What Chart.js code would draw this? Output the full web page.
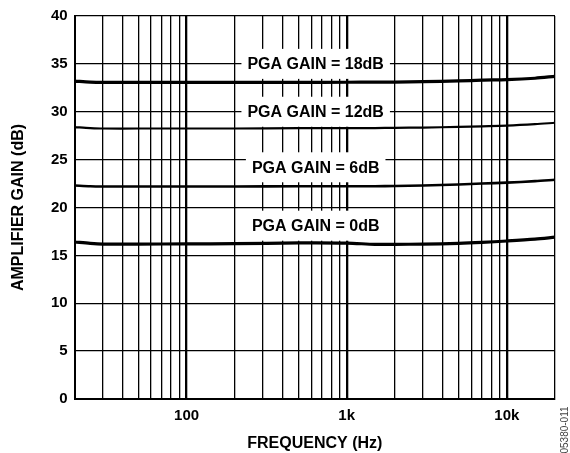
<!DOCTYPE html>
<html>
<head>
<meta charset="utf-8">
<script src="https://cdn.jsdelivr.net/npm/chart.js@4"></script>
<style>
  html, body { margin: 0; padding: 0; background: #fff; }
  #wrap { width: 570px; height: 453px; position: relative; }
</style>
</head>
<body>
<div id="wrap"><canvas id="gain"></canvas></div>
<script>
// frequency points (Hz) shared by all curves
const freqHz = [20, 25, 30, 50, 100, 200, 500, 1000, 1500, 2000, 3000, 5000, 7000, 10000, 15000, 20000];
// amplifier gain (dB) for each PGA setting
const gain0dB  = [16.4, 16.25, 16.18, 16.18, 16.2, 16.22, 16.3, 16.28, 16.15, 16.15, 16.18, 16.25, 16.35, 16.5, 16.7, 16.9];
const gain6dB  = [22.3, 22.22, 22.2, 22.2, 22.2, 22.2, 22.22, 22.22, 22.22, 22.25, 22.3, 22.4, 22.5, 22.6, 22.75, 22.9];
const gain12dB = [28.4, 28.3, 28.25, 28.25, 28.25, 28.25, 28.28, 28.3, 28.3, 28.32, 28.35, 28.42, 28.48, 28.55, 28.7, 28.85];
const gain18dB = [33.2, 33.1, 33.07, 33.07, 33.07, 33.07, 33.07, 33.08, 33.1, 33.1, 33.15, 33.22, 33.3, 33.35, 33.5, 33.7];

// x grid / tick values and which ones carry a label
const xTickValues = [20, 30, 40, 50, 60, 70, 80, 90, 100, 200, 300, 400, 500, 600, 700, 800, 900,
                     1000, 2000, 3000, 4000, 5000, 6000, 7000, 8000, 9000, 10000, 20000];
const xTickLabels = { 100: "100", 1000: "1k", 10000: "10k" };

// curve annotations: text and anchor (Hz, dB)
const labelText = ["PGA GAIN = 18dB", "PGA GAIN = 12dB", "PGA GAIN = 6dB", "PGA GAIN = 0dB"];
const labelFreq = [640, 640, 640, 640];
const labelGain = [35, 30, 24.2, 18.1];

const FONT = "'Liberation Sans', Arial, Helvetica, sans-serif";

const toPoints = ys => freqHz.map((f, i) => ({ x: f, y: ys[i] }));

const curveLabels = {
  id: "curveLabels",
  beforeDatasetsDraw(chart) {
    const { ctx, scales: { x, y } } = chart;
    ctx.save();
    ctx.font = "bold 16px " + FONT;
    ctx.textAlign = "center";
    ctx.textBaseline = "middle";
    labelText.forEach((t, i) => {
      const cx = x.getPixelForValue(labelFreq[i]);
      const cy = y.getPixelForValue(labelGain[i]);
      const w = ctx.measureText(t).width + 12;
      ctx.fillStyle = "#fff";
      ctx.fillRect(cx - w / 2, cy - 15, w, 30);
      ctx.fillStyle = "#000";
      ctx.fillText(t, cx, cy + 1);
    });
    ctx.restore();
  },
  afterDraw(chart) {
    const ctx = chart.ctx;
    ctx.save();
    ctx.translate(565, 430);
    ctx.rotate(-Math.PI / 2);
    ctx.font = "10px " + FONT;
    ctx.fillStyle = "#444";
    ctx.textAlign = "center";
    ctx.textBaseline = "middle";
    ctx.fillText("05380-011", 0, 0);
    ctx.restore();
  }
};

const ds = (data, w) => ({
  data: toPoints(data),
  borderColor: "#000",
  borderWidth: w,
  pointRadius: 0,
  tension: 0.3,
  fill: false
});

new Chart(document.getElementById("gain"), {
  type: "line",
  data: {
    datasets: [ds(gain18dB, 3.2), ds(gain12dB, 2.2), ds(gain6dB, 2.6), ds(gain0dB, 3.2)]
  },
  options: {
    responsive: true,
    maintainAspectRatio: false,
    animation: false,
    layout: { padding: { left: 0, top: 15, right: 15, bottom: 0 } },
    plugins: { legend: { display: false }, tooltip: { enabled: false } },
    scales: {
      x: {
        type: "logarithmic",
        min: 20,
        max: 20000,
        afterBuildTicks: s => { s.ticks = xTickValues.map(v => ({ value: v })); },
        afterFit: s => { s.height = 54; },
        ticks: {
          autoSkip: false,
          maxRotation: 0,
          padding: 8,
          color: "#000",
          font: { family: FONT, size: 15, weight: "bold" },
          callback: v => xTickLabels[v] || ""
        },
        grid: {
          color: "#000",
          drawTicks: false,
          lineWidth: c => (c.tick && [100, 1000, 10000].includes(c.tick.value)) ? 2.3 : 1.3
        },
        border: { display: true, color: "#000", width: 2 },
        title: {
          display: true,
          text: "FREQUENCY (Hz)",
          color: "#000",
          padding: { top: 0, bottom: 0 },
          font: { family: FONT, size: 16, weight: "bold" }
        }
      },
      y: {
        min: 0,
        max: 40,
        ticks: {
          stepSize: 5,
          padding: 7,
          color: "#000",
          font: { family: FONT, size: 15, weight: "bold" }
        },
        afterFit: s => { s.width = 74.7; },
        grid: { color: "#000", drawTicks: false, lineWidth: 1.3 },
        border: { display: true, color: "#000", width: 2 },
        title: {
          display: true,
          text: "AMPLIFIER GAIN (dB)",
          color: "#000",
          padding: { top: 9, bottom: 0 },
          font: { family: FONT, size: 16, weight: "bold" }
        }
      }
    }
  },
  plugins: [curveLabels]
});
</script>
</body>
</html>
